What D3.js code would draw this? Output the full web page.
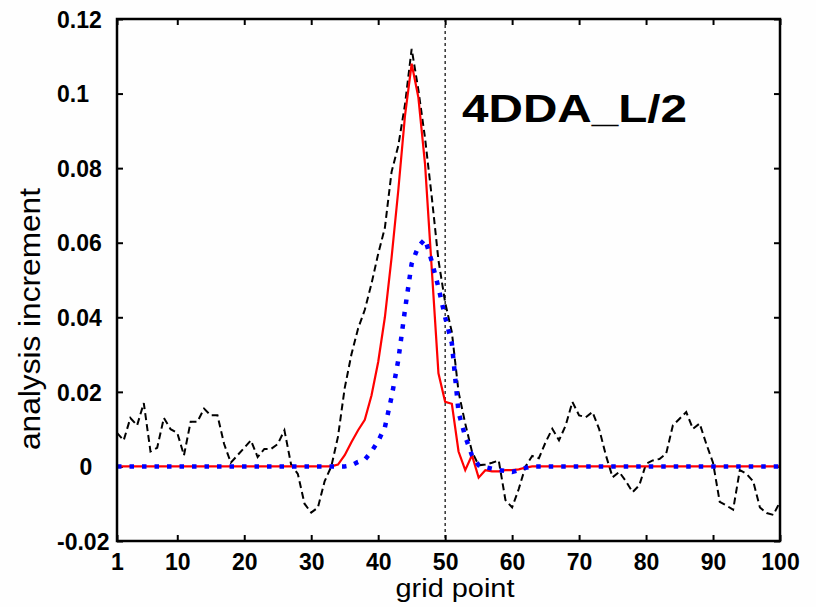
<!DOCTYPE html>
<html>
<head>
<meta charset="utf-8">
<script src="https://cdn.jsdelivr.net/npm/d3@7"></script>
<style>
  body { margin: 0; background: #fefefe; }
  svg { display: block; font-family: "Liberation Sans", Arial, sans-serif; }
</style>
</head>
<body>
<div id="chart"></div>
<script>
////////////////////////////////////////////////////////////////////////////////
////////////////////////////////////////////////////////////////////// Data
////////////////////////////////////////////////////////////////////////////////

// grid points along the x axis
const gridPoints = d3.range(1, 101);

// black dashed curve
const blackSeries = [
  0.009, 0.007, 0.013, 0.011, 0.017, 0.004, 0.005, 0.013, 0.010, 0.009,
  0.003, 0.012, 0.012, 0.0155, 0.0137, 0.0137, 0.006, 0.001, 0.003, 0.005,
  0.007, 0.0025, 0.0047, 0.0047, 0.006, 0.0097, 0.0005, -0.002, -0.010, -0.0124,
  -0.011, -0.004, 0.000, 0.008, 0.021, 0.030, 0.037, 0.042, 0.049, 0.057,
  0.064, 0.079, 0.086, 0.097, 0.112, 0.101, 0.088, 0.0723, 0.0553, 0.044,
  0.036, 0.020, 0.0115, 0.004, 0.0003, 0.0005, 0.001, 0.0016, -0.009, -0.011,
  -0.006, 0.000, 0.0028, 0.0022, 0.0065, 0.0101, 0.007, 0.011, 0.0173, 0.0137,
  0.0132, 0.0146, 0.010, 0.003, -0.0029, -0.0015, -0.004, -0.0069, -0.005, 0.0007,
  0.0016, 0.002, 0.0034, 0.011, 0.0128, 0.0146, 0.0101, 0.0115, 0.006, 0.001,
  -0.0095, -0.0105, -0.0116, -0.001, -0.002, -0.004, -0.011, -0.0125, -0.013, -0.0095
];

// red solid curve
const redSeries = [
  0, 0, 0, 0, 0, 0, 0, 0, 0, 0,
  0, 0, 0, 0, 0, 0, 0, 0, 0, 0,
  0, 0, 0, 0, 0, 0, 0, 0, 0, 0,
  0, 0, 0, 0.0005, 0.003, 0.0065, 0.0097, 0.0125, 0.019, 0.028,
  0.040, 0.056, 0.074, 0.094, 0.108, 0.099, 0.081, 0.053, 0.025, 0.0173,
  0.0168, 0.004, -0.001, 0.003, -0.003, -0.001, -0.0013, -0.0013, -0.001, -0.001,
  -0.0008, -0.0003, 0, 0, 0, 0, 0, 0, 0, 0,
  0, 0, 0, 0, 0, 0, 0, 0, 0, 0,
  0, 0, 0, 0, 0, 0, 0, 0, 0, 0,
  0, 0, 0, 0, 0, 0, 0, 0, 0, 0
];

// blue dotted curve
const blueSeries = [
  0, 0, 0, 0, 0, 0, 0, 0, 0, 0,
  0, 0, 0, 0, 0, 0, 0, 0, 0, 0,
  0, 0, 0, 0, 0, 0, 0, 0, 0, 0,
  0, 0, 0, 0, 0, 0.0003, 0.0012, 0.0018, 0.004, 0.0068,
  0.0105, 0.0186, 0.0285, 0.042, 0.0544, 0.059, 0.061, 0.055, 0.048, 0.040,
  0.033, 0.0145, 0.008, 0.003, 0.0003, -0.0002, -0.0006, -0.001, -0.0012, -0.0015,
  -0.001, -0.0004, 0, 0, 0, 0, 0, 0, 0, 0,
  0, 0, 0, 0, 0, 0, 0, 0, 0, 0,
  0, 0, 0, 0, 0, 0, 0, 0, 0, 0,
  0, 0, 0, 0, 0, 0, 0, 0, 0, 0
];

// ticks
const xTicks = [1, 10, 20, 30, 40, 50, 60, 70, 80, 90, 100];
const yTicks = [-0.02, 0, 0.02, 0.04, 0.06, 0.08, 0.1, 0.12];
const yTickLabels = ["-0.02", "0", "0.02", "0.04", "0.06", "0.08", "0.1", "0.12"];

// reference grid point and panel label
const markerPoint = 50;
const panelLabel = "4DDA_L/2";

////////////////////////////////////////////////////////////////////////////////
////////////////////////////////////////////////////////////////////// Chart
////////////////////////////////////////////////////////////////////////////////

const margin = { top: 19, right: 36, bottom: 66, left: 117 };
const width = 816 - margin.left - margin.right;
const height = 607 - margin.top - margin.bottom;

const svg = d3.select("#chart")
  .append("svg")
    .attr("width", 816)
    .attr("height", 607);

const g = svg.append("g")
  .attr("transform", `translate(${margin.left},${margin.top})`);

const xScale = d3.scaleLinear().domain([1, 100]).range([0, width]);
const yScale = d3.scaleLinear().domain([-0.02, 0.12]).range([height, 0]);

// inward ticks on all four sides
function styleAxis(sel) {
  sel.select(".domain").remove();
  sel.selectAll(".tick line").attr("stroke", "#000").attr("stroke-width", 2);
}

g.append("g")
  .attr("transform", `translate(0,${height})`)
  .call(d3.axisBottom(xScale).tickValues(xTicks).tickSize(-6).tickPadding(14))
  .call(styleAxis)
  .call(s => s.selectAll(".tick text")
    .attr("y", 0)
    .attr("dy", 29)
    .attr("fill", "#000")
    .style("font-size", "23px")
    .style("font-weight", "bold")
    .style("font-family", "'Liberation Sans', Arial, sans-serif"));

g.append("g")
  .call(d3.axisTop(xScale).tickValues(xTicks).tickSize(-6).tickFormat(""))
  .call(styleAxis);

g.append("g")
  .call(d3.axisLeft(yScale).tickValues(yTicks).tickSize(-6)
    .tickFormat((d, i) => yTickLabels[i]))
  .call(styleAxis)
  .call(s => s.selectAll(".tick text")
    .attr("x", d => d === 0 ? -31 : -60)
    .attr("dy", "0.36em")
    .attr("text-anchor", d => d === 0 ? "middle" : "start")
    .attr("fill", "#000")
    .style("font-size", "23px")
    .style("font-weight", "bold")
    .style("font-family", "'Liberation Sans', Arial, sans-serif"));

g.append("g")
  .attr("transform", `translate(${width},0)`)
  .call(d3.axisRight(yScale).tickValues(yTicks).tickSize(-6).tickFormat(""))
  .call(styleAxis);

// vertical dotted marker
g.append("line")
  .attr("x1", xScale(markerPoint))
  .attr("x2", xScale(markerPoint))
  .attr("y1", 0)
  .attr("y2", height)
  .attr("stroke", "#000")
  .attr("stroke-width", 1.2)
  .attr("stroke-dasharray", "3 3");

// curves
const line = d3.line()
  .x((d, i) => xScale(gridPoints[i]))
  .y(d => yScale(d));

g.append("path")
  .datum(blackSeries)
  .attr("fill", "none")
  .attr("stroke", "#000")
  .attr("stroke-width", 2)
  .attr("stroke-dasharray", "7 4")
  .attr("d", line);

g.append("path")
  .datum(redSeries)
  .attr("fill", "none")
  .attr("stroke", "#ff0000")
  .attr("stroke-width", 2.2)
  .attr("d", line);

g.append("path")
  .datum(blueSeries)
  .attr("fill", "none")
  .attr("stroke", "#0000ff")
  .attr("stroke-width", 4.5)
  .attr("stroke-dasharray", "4.5 8")
  .attr("d", line);

// frame
g.append("rect")
  .attr("width", width)
  .attr("height", height)
  .attr("fill", "none")
  .attr("stroke", "#000")
  .attr("stroke-width", 2.5);

// panel label
svg.append("text")
  .attr("x", 462)
  .attr("y", 122)
  .attr("textLength", 225)
  .attr("lengthAdjust", "spacingAndGlyphs")
  .style("font-size", "39px")
  .style("font-weight", "bold")
  .text(panelLabel);

// axis titles
svg.append("text")
  .attr("x", 455)
  .attr("y", 597)
  .attr("text-anchor", "middle")
  .attr("textLength", 119)
  .attr("lengthAdjust", "spacingAndGlyphs")
  .style("font-size", "25px")
  .text("grid point");

svg.append("text")
  .attr("transform", "translate(40,319) rotate(-90)")
  .attr("text-anchor", "middle")
  .attr("textLength", 262)
  .attr("lengthAdjust", "spacingAndGlyphs")
  .style("font-size", "30px")
  .text("analysis increment");
</script>
</body>
</html>
